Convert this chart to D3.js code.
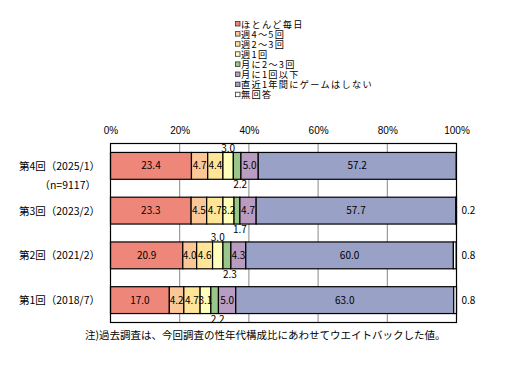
<!DOCTYPE html>
<html>
<head>
<meta charset="utf-8">
<script src="https://cdn.jsdelivr.net/npm/d3@7"></script>
<style>
  body { margin: 0; background: #fff; }
  svg { display: block; font-family: "Noto Sans CJK JP", sans-serif; }
</style>
</head>
<body>
<svg id="chart" width="512" height="371"></svg>
<script>
const SERIES = ["ほとんど毎日", "週4～5回", "週2～3回", "週1回", "月に2～3回", "月に1回以下", "直近1年間にゲームはしない", "無回答"];
const COLORS = ["#ee877a", "#fcc796", "#ffe597", "#ffffbb", "#9bc68a", "#b99cc1", "#99a1c6", "#ffffff"];
const ROUNDS = ["第4回（2025/1）", "第3回（2023/2）", "第2回（2021/2）", "第1回（2018/7）"];
const ROUND_NOTE = ["（n=9117）", "", "", ""];
const VALUES = [
  [23.4, 4.7, 4.4, 3.0, 2.2, 5.0, 57.2, 0.0],
  [23.3, 4.5, 4.7, 3.2, 1.7, 4.7, 57.7, 0.2],
  [20.9, 4.0, 4.6, 3.0, 2.3, 4.3, 60.0, 0.8],
  [17.0, 4.2, 4.7, 3.1, 2.2, 5.0, 63.0, 0.8]
];
const TICKS = [0, 20, 40, 60, 80, 100];
const NOTE = "注)過去調査は、今回調査の性年代構成比にあわせてウエイトバックした値。";

const svg = d3.select("#chart");
const plotL = 110.5, plotR = 456.5, plotT = 143.5, plotB = 322.5;

const x = d3.scaleLinear().domain([0, 100]).range([plotL, plotR]);
const y = d3.scaleBand().domain(ROUNDS).range([plotT, plotB]).paddingInner(0.4).paddingOuter(0.2);

// legend
const legend = svg.append("g").attr("transform", "translate(235,19)");
SERIES.forEach((s, i) => {
  const g = legend.append("g").attr("transform", `translate(0,${i * 10.1})`);
  g.append("rect").attr("x", 0.5).attr("y", 2.5).attr("width", 4.5).attr("height", 4.5)
    .attr("fill", COLORS[i]).attr("stroke", "#333").attr("stroke-width", 0.8);
  g.append("text").attr("x", 6).attr("y", 8.5).attr("font-size", 9.2)
    .attr("letter-spacing", 1.3).text(s);
});

// grid
svg.append("g").selectAll("line")
  .data(TICKS.filter(t => t > 0 && t < 100))
  .enter().append("line")
  .attr("x1", d => x(d)).attr("x2", d => x(d))
  .attr("y1", plotT).attr("y2", plotB)
  .attr("stroke", "#888").attr("stroke-width", 1);

// top axis labels
const axis = svg.append("g").attr("transform", `translate(0,${plotT - 7})`)
  .call(d3.axisTop(x).tickValues(TICKS).tickSize(0).tickFormat(d => d + "%"));
axis.select(".domain").remove();
axis.selectAll("text").attr("font-size", 10).attr("font-family", "inherit").attr("fill", "#000");

// stacked bars
const rows = VALUES.map((vals, r) => {
  let acc = 0;
  return vals.map((v, i) => {
    const seg = { round: ROUNDS[r], i, v, x0: acc, x1: acc + v };
    acc += v;
    return seg;
  });
});

const rowG = svg.append("g").selectAll("g").data(rows).enter().append("g");

rowG.selectAll("rect").data(d => d).enter().append("rect")
  .attr("x", d => x(d.x0))
  .attr("y", d => y(d.round))
  .attr("width", d => x(d.x1) - x(d.x0))
  .attr("height", y.bandwidth())
  .attr("fill", d => COLORS[d.i])
  .attr("stroke", "#000").attr("stroke-width", 1.2);

rowG.selectAll("text").data(d => d.filter(s => s.v > 0)).enter().append("text")
  .attr("font-size", 10)
  .attr("text-anchor", d => d.i === 7 ? "start" : "middle")
  .attr("x", d => d.i === 7 ? plotR + 5 : (x(d.x0) + x(d.x1)) / 2 + (d.v < 3.05 && d.i === 4 ? 3 : 0))
  .attr("y", d => {
    const yt = y(d.round), h = y.bandwidth();
    if (d.i === 4 && d.v < 3.05) return yt + h + 9;
    if (d.i === 3 && d.v < 3.05) return yt - 0.5;
    return yt + h / 2 + 3.5;
  })
  .text(d => d.v.toFixed(1));

// plot frame
svg.append("rect").attr("x", plotL).attr("y", plotT)
  .attr("width", plotR - plotL).attr("height", plotB - plotT)
  .attr("fill", "none").attr("stroke", "#000").attr("stroke-width", 1.2);

// category labels
ROUNDS.forEach((r, i) => {
  const cy = y(r) + y.bandwidth() / 2;
  svg.append("text").attr("x", 100).attr("y", cy + 4).attr("text-anchor", "end")
    .attr("font-size", 10.5).text(r);
  if (ROUND_NOTE[i]) {
    svg.append("text").attr("x", 96).attr("y", cy + 23).attr("text-anchor", "end")
      .attr("font-size", 10.5).text(ROUND_NOTE[i]);
  }
});

svg.append("text").attr("x", 85).attr("y", 339).attr("font-size", 10.5).text(NOTE);
</script>
</body>
</html>
